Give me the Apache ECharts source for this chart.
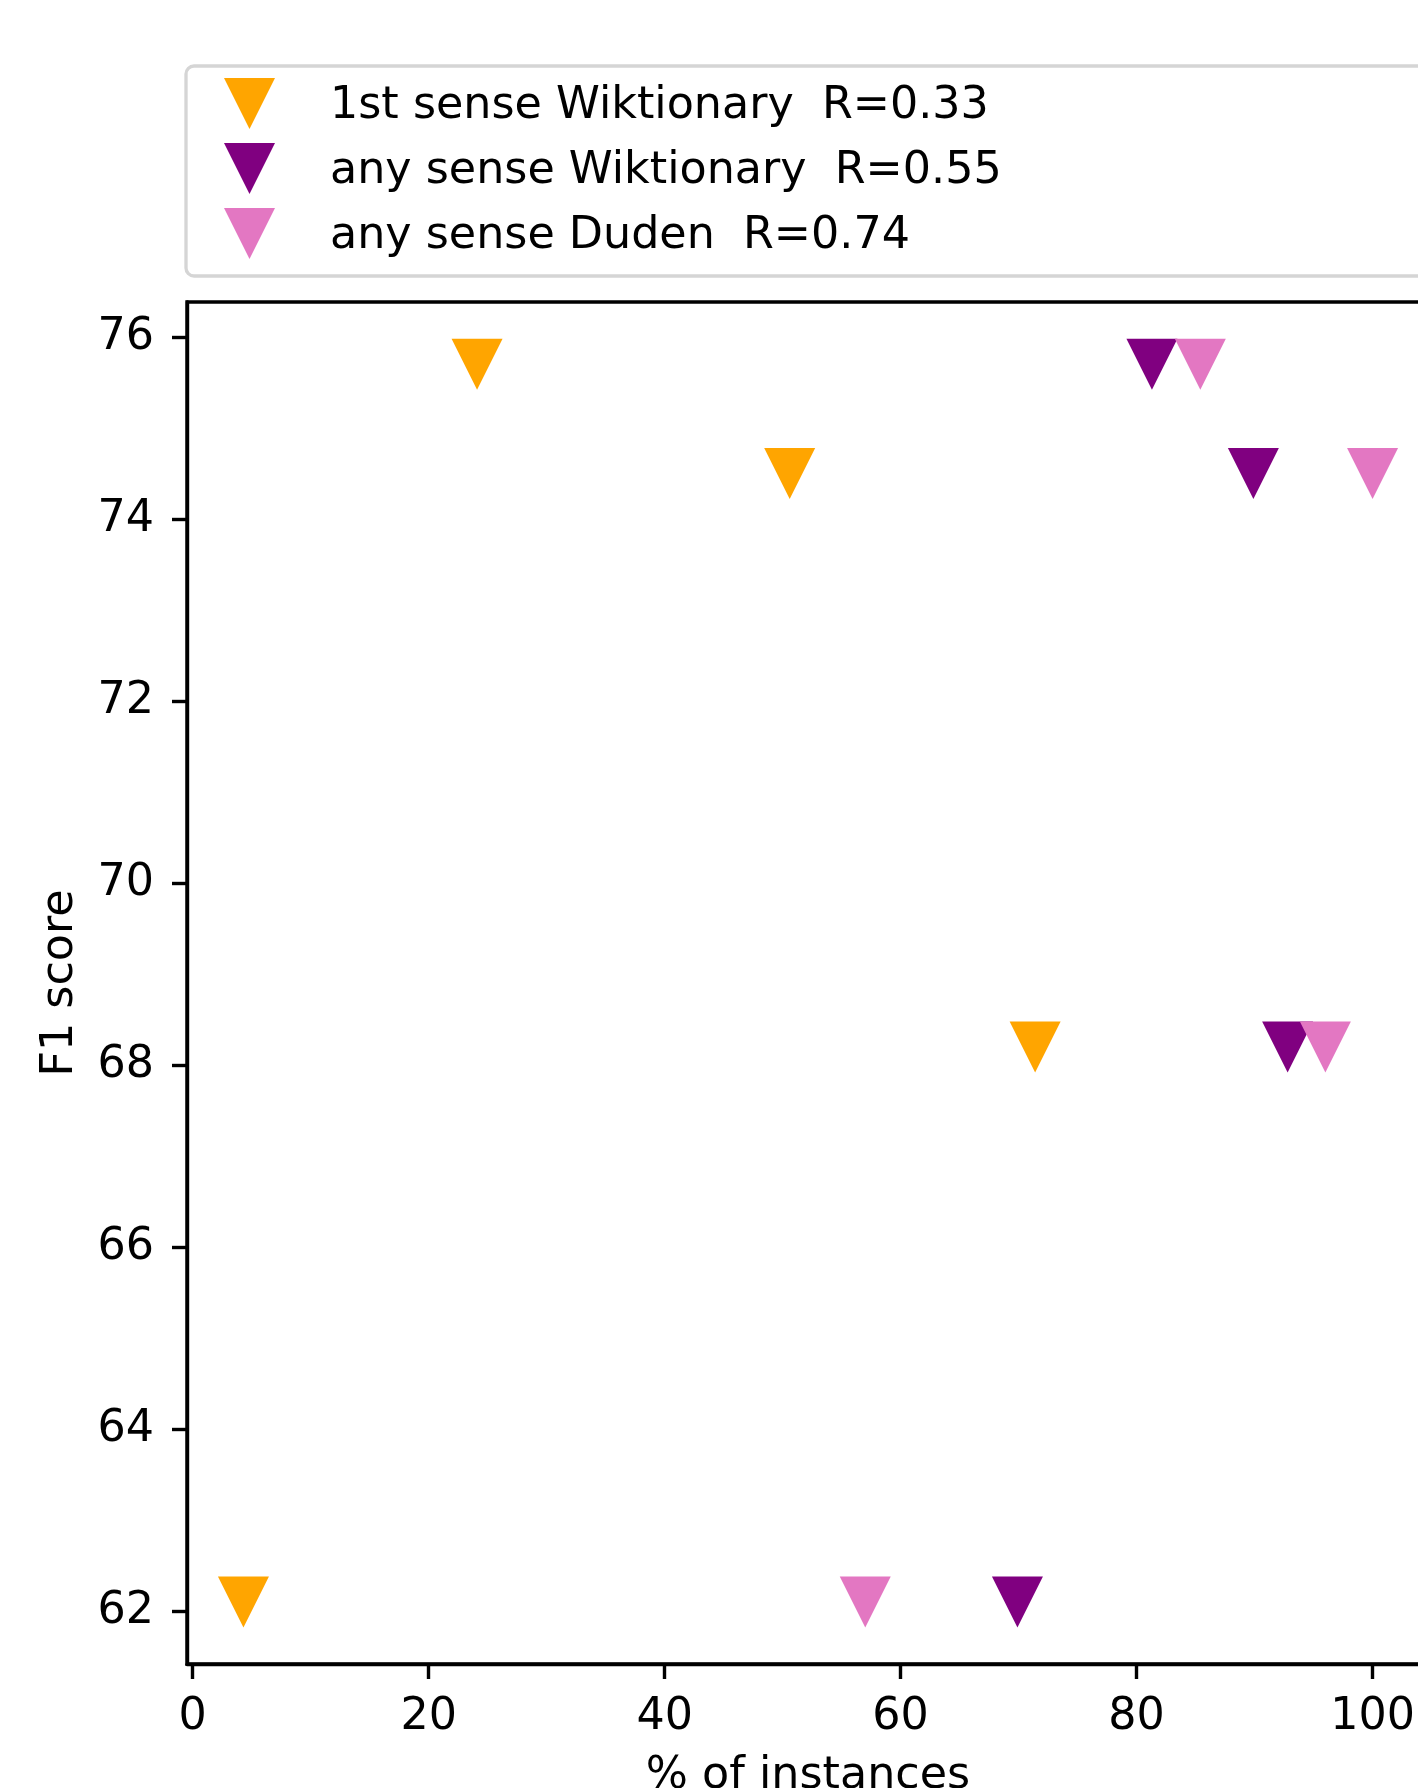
<!DOCTYPE html>
<html>
<head>
<meta charset="utf-8">
<script src="https://cdn.jsdelivr.net/npm/echarts@6/dist/echarts.min.js"></script>
<style>
  html, body { margin: 0; padding: 0; background: #ffffff; }
  #chart { width: 1418px; height: 1788px; }
</style>
</head>
<body>
<div id="chart"></div>
<script>
// ---- data ----
const seriesNames = [
  '1st sense Wiktionary  R=0.33',
  'any sense Wiktionary  R=0.55',
  'any sense Duden  R=0.74'
];
const firstWiktX = [4.3, 24.1, 50.6, 71.4];
const firstWiktY = [62.1, 75.7, 74.5, 68.2];
const anyWiktX = [69.9, 81.3, 89.9, 92.8];
const anyWiktY = [62.1, 75.7, 74.5, 68.2];
const anyDudenX = [57.0, 85.4, 100.0, 96.0];
const anyDudenY = [62.1, 75.7, 74.5, 68.2];
const xTicks = [0, 20, 40, 60, 80, 100];
const yTicks = [62, 64, 66, 68, 70, 72, 74, 76];
const xLabel = '% of instances';
const yLabel = 'F1 score';

const colors = ['#ffa500', '#800080', '#e377c2'];
const FONT = 'DejaVu Sans';
const FS = 44.4;
const tri = 'path://M0,0 L2,0 L1,2 Z';

function pairs(xs, ys) { return xs.map((x, i) => [x, ys[i]]); }

const chart = echarts.init(document.getElementById('chart'), null, { renderer: 'canvas' });

const axisCommon = {
  axisLine: { show: true, onZero: false, lineStyle: { color: '#000', width: 3.4 } },
  axisTick: { show: true, inside: false, length: 15, lineStyle: { color: '#000', width: 3.4 } },
  splitLine: { show: false },
  nameTextStyle: { fontFamily: FONT, fontSize: FS, color: '#000' }
};

chart.setOption({
  animation: false,
  backgroundColor: '#ffffff',
  textStyle: { fontFamily: FONT },
  grid: {
    left: 187, top: 302, width: 1242, height: 1362,
    containLabel: false, outerBoundsMode: 'none',
    show: true, borderColor: '#000', borderWidth: 3.4, backgroundColor: 'transparent'
  },
  legend: {
    data: seriesNames,
    orient: 'vertical',
    left: 186, top: 66,
    padding: [12, 800, 17, 38],
    itemWidth: 51, itemHeight: 51, itemGap: 14,
    icon: tri,
    borderColor: '#d5d5d5', borderWidth: 3.3, borderRadius: 8,
    backgroundColor: '#ffffff',
    formatter: function (name) { return '{t|' + name + '}'; },
    textStyle: {
      fontFamily: FONT, fontSize: FS, color: '#000',
      rich: { t: { fontFamily: FONT, fontSize: FS, color: '#000', padding: [5, 0, 0, 50] } }
    }
  },
  xAxis: Object.assign({}, axisCommon, {
    type: 'value',
    min: -0.485, max: 104.785,
    name: xLabel, nameLocation: 'middle', nameGap: 90,
    axisTick: Object.assign({}, axisCommon.axisTick, { customValues: xTicks }),
    axisLabel: { customValues: xTicks, fontFamily: FONT, fontSize: FS, color: '#000', margin: 31 }
  }),
  yAxis: Object.assign({}, axisCommon, {
    type: 'value',
    min: 61.42, max: 76.385,
    name: yLabel, nameLocation: 'middle', nameGap: 105, nameRotate: 90,
    axisTick: Object.assign({}, axisCommon.axisTick, { customValues: yTicks }),
    axisLabel: { customValues: yTicks, fontFamily: FONT, fontSize: FS, color: '#000', margin: 33,
                 padding: [4, 0, 0, 0] }
  }),
  series: [
    { name: seriesNames[0], type: 'scatter', symbol: tri, symbolSize: [51, 51],
      itemStyle: { color: colors[0], opacity: 1 }, data: pairs(firstWiktX, firstWiktY) },
    { name: seriesNames[1], type: 'scatter', symbol: tri, symbolSize: [51, 51],
      itemStyle: { color: colors[1], opacity: 1 }, data: pairs(anyWiktX, anyWiktY) },
    { name: seriesNames[2], type: 'scatter', symbol: tri, symbolSize: [51, 51],
      itemStyle: { color: colors[2], opacity: 1 }, data: pairs(anyDudenX, anyDudenY) }
  ]
});
</script>
</body>
</html>
